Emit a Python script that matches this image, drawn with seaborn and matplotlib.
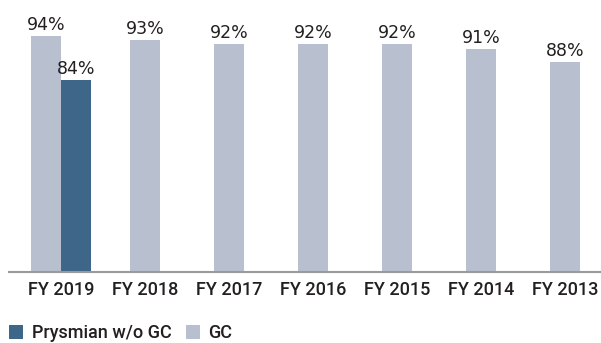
import matplotlib
matplotlib.use("Agg")
import matplotlib.pyplot as plt
import pandas as pd
import seaborn as sns

# Fiscal years, left to right
years = ["FY 2019", "FY 2018", "FY 2017", "FY 2016", "FY 2015", "FY 2014", "FY 2013"]
# GC share for each year (%)
gc_values = [94, 93, 92, 92, 92, 91, 88]
# Prysmian without GC, only reported for FY 2019 (%)
prysmian_years = ["FY 2019"]
prysmian_values = [84]

series_names = ["GC", "Prysmian w/o GC"]
colors = {"GC": "#b8bfcf", "Prysmian w/o GC": "#3e6688"}
text_color = "#231f20"

sns.set_theme(style="white")
plt.rcParams["font.family"] = ["DejaVu Sans"]

fig = plt.figure(figsize=(6.01, 3.43), dpi=100)
ax = fig.add_axes([9 / 601, (343 - 271.5) / 343, 592 / 601, 271.5 / 343])

# Year with both series: bars side by side
both = pd.DataFrame({
    "year": [years[0]] * 2,
    "series": series_names,
    "value": [gc_values[0], prysmian_values[0]],
})
sns.barplot(data=both, x="year", y="value", hue="series", hue_order=series_names,
            order=years, palette=colors, width=0.714, dodge=True, saturation=1,
            linewidth=0, ax=ax)

# Years with GC only: single centred bar
single = pd.DataFrame({"year": years[1:], "value": gc_values[1:]})
sns.barplot(data=single, x="year", y="value", order=years, color=colors["GC"],
            width=0.357, saturation=1, linewidth=0, ax=ax)

# Value labels above the bars
for cont in ax.containers:
    vals = [int(round(b.get_height())) for b in cont]
    ax.bar_label(cont, labels=[f"{v}%" for v in vals], padding=1.5,
                 fontsize=12.5, color=text_color)

ax.set_ylim(40.4, 40.4 + 271.5 / 4.4)
ax.set_xlim(-0.619, 6.429)
ax.set_xlabel("")
ax.set_ylabel("")
ax.set_yticks([])
for side in ["top", "right", "left"]:
    ax.spines[side].set_visible(False)
ax.spines["bottom"].set_color("#9a9a9a")
ax.spines["bottom"].set_linewidth(1.5)
ax.tick_params(axis="x", length=0, pad=7)
for lbl in ax.get_xticklabels():
    lbl.set_fontfamily("Roboto")
    lbl.set_fontweight("medium")
    lbl.set_fontsize(13)
    lbl.set_color(text_color)

# Legend along the bottom edge, Prysmian first
handles, labels = ax.get_legend_handles_labels()
ax.get_legend().remove()
order = [labels.index("Prysmian w/o GC"), labels.index("GC")]
fig.legend([handles[i] for i in order], [labels[i] for i in order],
           loc="lower left", bbox_to_anchor=(9 / 601, 0.5 / 343), ncol=2,
           frameon=False, handlelength=0.8, handleheight=0.8,
           handletextpad=0.45, columnspacing=0.8, borderpad=0.0,
           borderaxespad=0.0,
           prop={"family": "Roboto", "size": 13, "weight": "medium"},
           labelcolor=text_color)

fig.savefig("out.png", dpi=100)
